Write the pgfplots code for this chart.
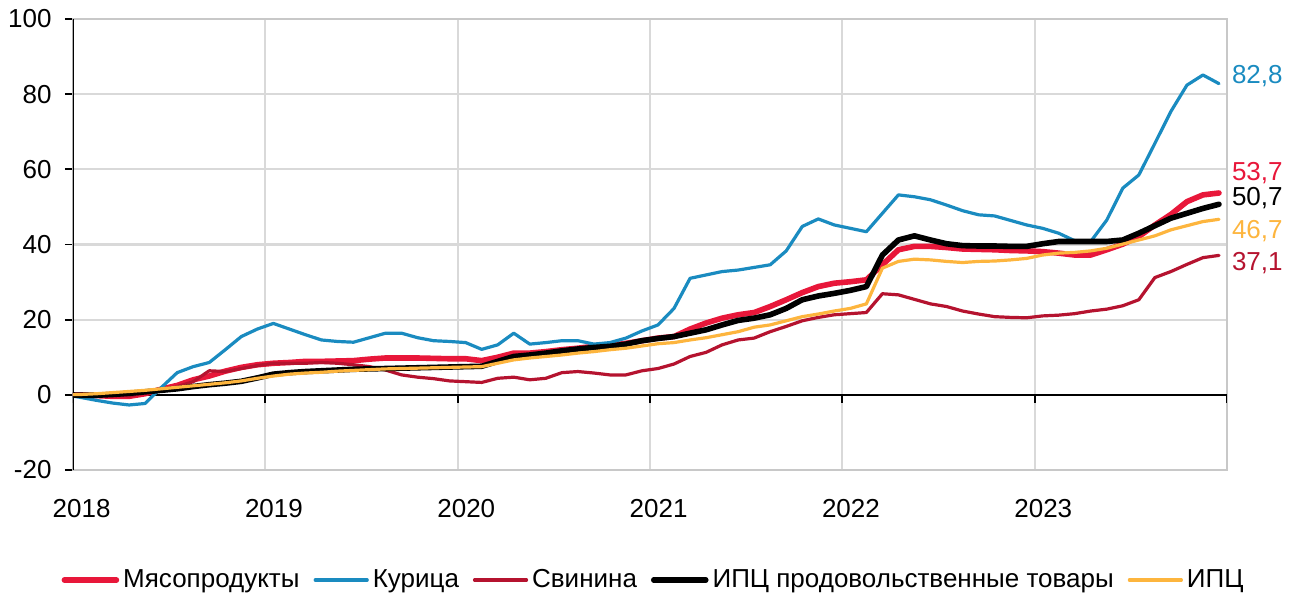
\documentclass[border=0pt]{standalone}
\usepackage{pgfplots}
\usepackage{pgfplotstable}
\pgfplotsset{compat=1.18}
\usepackage{fontspec}
\setmainfont{Liberation Sans}
\definecolor{meat}{HTML}{E8173A}
\definecolor{chick}{HTML}{1A8BC0}
\definecolor{pork}{HTML}{B5132F}
\definecolor{cpi}{HTML}{FDB53E}
\definecolor{gridc}{HTML}{D9D9D9}
\definecolor{framec}{HTML}{C8C8C8}

\pgfplotstableread{
x meat chick pork food cpi
-0.5 0 0 0 0 0
0.5 0.0 -0.7 0.1 -0.1 0.1
1.5 -0.2 -1.5 0.0 -0.1 0.3
2.5 -0.4 -2.2 -0.2 0.1 0.6
3.5 -0.4 -2.7 -0.3 0.4 0.9
4.5 0.3 -2.3 0.5 0.8 1.2
5.5 1.5 1.9 1.3 1.2 1.6
6.5 2.5 5.9 2.2 1.6 2.0
7.5 4.0 7.5 3.5 2.2 2.4
8.5 5.0 8.6 6.4 2.7 2.8
9.5 6.3 12.0 6.2 3.1 3.2
10.5 7.3 15.5 7.0 3.6 3.7
11.5 8.0 17.5 7.8 4.5 4.4
12.5 8.4 19.0 8.4 5.5 5.0
13.5 8.6 17.5 8.4 5.9 5.5
14.5 8.9 16.0 8.4 6.2 5.8
15.5 8.9 14.6 8.6 6.4 6.0
16.5 9.0 14.2 8.4 6.6 6.3
17.5 9.1 14.0 8.0 6.8 6.5
18.5 9.5 15.2 7.5 6.9 6.7
19.5 9.8 16.4 6.6 7.0 6.9
20.5 9.8 16.4 5.3 7.1 7.0
21.5 9.8 15.2 4.7 7.2 7.1
22.5 9.7 14.4 4.3 7.3 7.2
23.5 9.6 14.2 3.7 7.4 7.3
24.5 9.6 13.9 3.5 7.5 7.4
25.5 9.1 12.1 3.3 7.6 7.5
26.5 10.0 13.3 4.4 8.9 8.4
27.5 11.1 16.4 4.7 10.2 9.3
28.5 11.1 13.5 4.0 10.6 9.8
29.5 11.5 13.9 4.4 11.1 10.2
30.5 12.0 14.4 5.9 11.7 10.6
31.5 12.4 14.4 6.2 12.2 11.1
32.5 12.9 13.5 5.8 12.6 11.5
33.5 13.1 13.9 5.3 12.9 12.0
34.5 13.7 15.1 5.3 13.5 12.4
35.5 14.4 17.0 6.4 14.4 13.0
36.5 15.1 18.6 7.0 15.0 13.6
37.5 15.5 23.0 8.2 15.5 13.9
38.5 17.5 31.0 10.2 16.4 14.6
39.5 19.1 31.9 11.3 17.3 15.2
40.5 20.4 32.8 13.3 18.6 16.0
41.5 21.3 33.2 14.6 19.8 16.8
42.5 21.9 33.9 15.1 20.4 18.0
43.5 23.5 34.6 16.8 21.3 18.6
44.5 25.3 38.3 18.2 23.0 19.7
45.5 27.2 44.8 19.7 25.3 20.8
46.5 28.8 46.8 20.6 26.3 21.5
47.5 29.7 45.2 21.3 27.0 22.3
48.5 30.1 44.3 21.6 27.8 23.0
49.5 30.6 43.4 21.9 28.8 24.2
50.5 34.6 48.3 26.9 37.2 33.7
51.5 38.6 53.2 26.6 41.2 35.5
52.5 39.5 52.7 25.4 42.3 36.1
53.5 39.5 51.9 24.2 41.2 35.9
54.5 39.2 50.5 23.5 40.2 35.5
55.5 38.8 49.0 22.3 39.7 35.2
56.5 38.7 47.9 21.5 39.6 35.5
57.5 38.6 47.6 20.8 39.6 35.6
58.5 38.4 46.4 20.6 39.5 35.9
59.5 38.3 45.2 20.5 39.5 36.3
60.5 38.1 44.3 21.0 40.2 37.2
61.5 37.7 43.0 21.2 40.8 37.7
62.5 37.2 41.0 21.6 40.8 37.9
63.5 37.2 40.8 22.3 40.8 38.3
64.5 38.6 46.5 22.8 40.8 39.0
65.5 40.1 55.0 23.7 41.2 40.1
66.5 42.1 58.5 25.3 43.0 41.2
67.5 45.2 66.9 31.2 45.0 42.3
68.5 48.0 75.4 32.8 47.0 43.9
69.5 51.4 82.4 34.7 48.3 45.0
70.5 53.2 85.1 36.5 49.6 46.1
71.5 53.7 82.8 37.1 50.7 46.7
}\data

\begin{document}
\begin{tikzpicture}
\useasboundingbox (-36.5pt,-64.5pt) rectangle (608.5pt,235pt);
\begin{axis}[
  at={(0,0)}, anchor=south west,
  scale only axis, width=577pt, height=225.5pt,
  xmin=0, xmax=72, ymin=-20, ymax=100,
  ytick={-20,0,20,40,60,80,100},
  xtick={0,12,24,36,48,60,72},
  xticklabels={2018,2019,2020,2021,2022,2023,},
  xticklabel style={xshift=4.3pt, yshift=-7pt},
  yticklabel style={xshift=-3.2pt},
  xmajorgrids, ymajorgrids,
  grid style={gridc, line width=1.1pt},
  axis line style={framec, line width=1.1pt},
  x tick style={draw=none},
  y tick style={black, line width=0.9pt},
  tick align=outside, major tick length=4pt,
  ytick pos=left,
  tick label style={font=\fontsize{13}{15}\selectfont},
  /pgf/number format/assume math mode=true,
  clip=true,
  legend columns=5,
  legend style={at={(0.504,-0.244)}, anchor=center, draw=none, fill=none,
    font=\fontsize{13}{15}\selectfont,
    /tikz/every odd column/.append style={column sep=0pt},
    /tikz/every even column/.append style={column sep=5pt},
    inner sep=0pt},
  legend image code/.code={\draw[#1] (0pt,0pt) -- (26pt,0pt);},
  every axis plot/.append style={line join=round, line cap=round},
]
\draw[black, line width=1pt] (rel axis cs:0,0) -- (rel axis cs:0,1);
\draw[black, line width=1pt] (axis cs:0,0) -- (axis cs:72,0);
\pgfplotsinvokeforeach{0,12,24,36,48,60,72}{
  \draw[black, line width=0.9pt] (axis cs:#1,0) -- ([yshift=-4pt]axis cs:#1,0);
}
\addplot[meat, line width=2.8pt] table[x=x, y=meat] {\data};
\addlegendentry{Мясопродукты}
\addplot[chick, line width=1.6pt] table[x=x, y=chick] {\data};
\addlegendentry{Курица}
\addplot[pork, line width=1.6pt] table[x=x, y=pork] {\data};
\addlegendentry{Свинина}
\addplot[black, line width=2.8pt] table[x=x, y=food] {\data};
\addlegendentry{ИПЦ продовольственные товары}
\addplot[cpi, line width=1.6pt] table[x=x, y=cpi] {\data};
\addlegendentry{ИПЦ}
\end{axis}
\begin{axis}[
  at={(0,0)}, anchor=south west,
  scale only axis, width=577pt, height=225.5pt,
  xmin=0, xmax=72, ymin=-20, ymax=100,
  hide axis, clip=false]
\node[anchor=west, inner sep=0pt, xshift=2.3pt, text=chick, font=\fontsize{13}{15}\selectfont] at (axis cs:72,84.9) {82,8};
\node[anchor=west, inner sep=0pt, xshift=2.3pt, text=meat, font=\fontsize{13}{15}\selectfont] at (axis cs:72,58.9) {53,7};
\node[anchor=west, inner sep=0pt, xshift=2.3pt, text=black, font=\fontsize{13}{15}\selectfont] at (axis cs:72,52.4) {50,7};
\node[anchor=west, inner sep=0pt, xshift=2.3pt, text=cpi, font=\fontsize{13}{15}\selectfont] at (axis cs:72,43.7) {46,7};
\node[anchor=west, inner sep=0pt, xshift=2.3pt, text=pork, font=\fontsize{13}{15}\selectfont] at (axis cs:72,35.1) {37,1};
\end{axis}
\end{tikzpicture}
\end{document}
